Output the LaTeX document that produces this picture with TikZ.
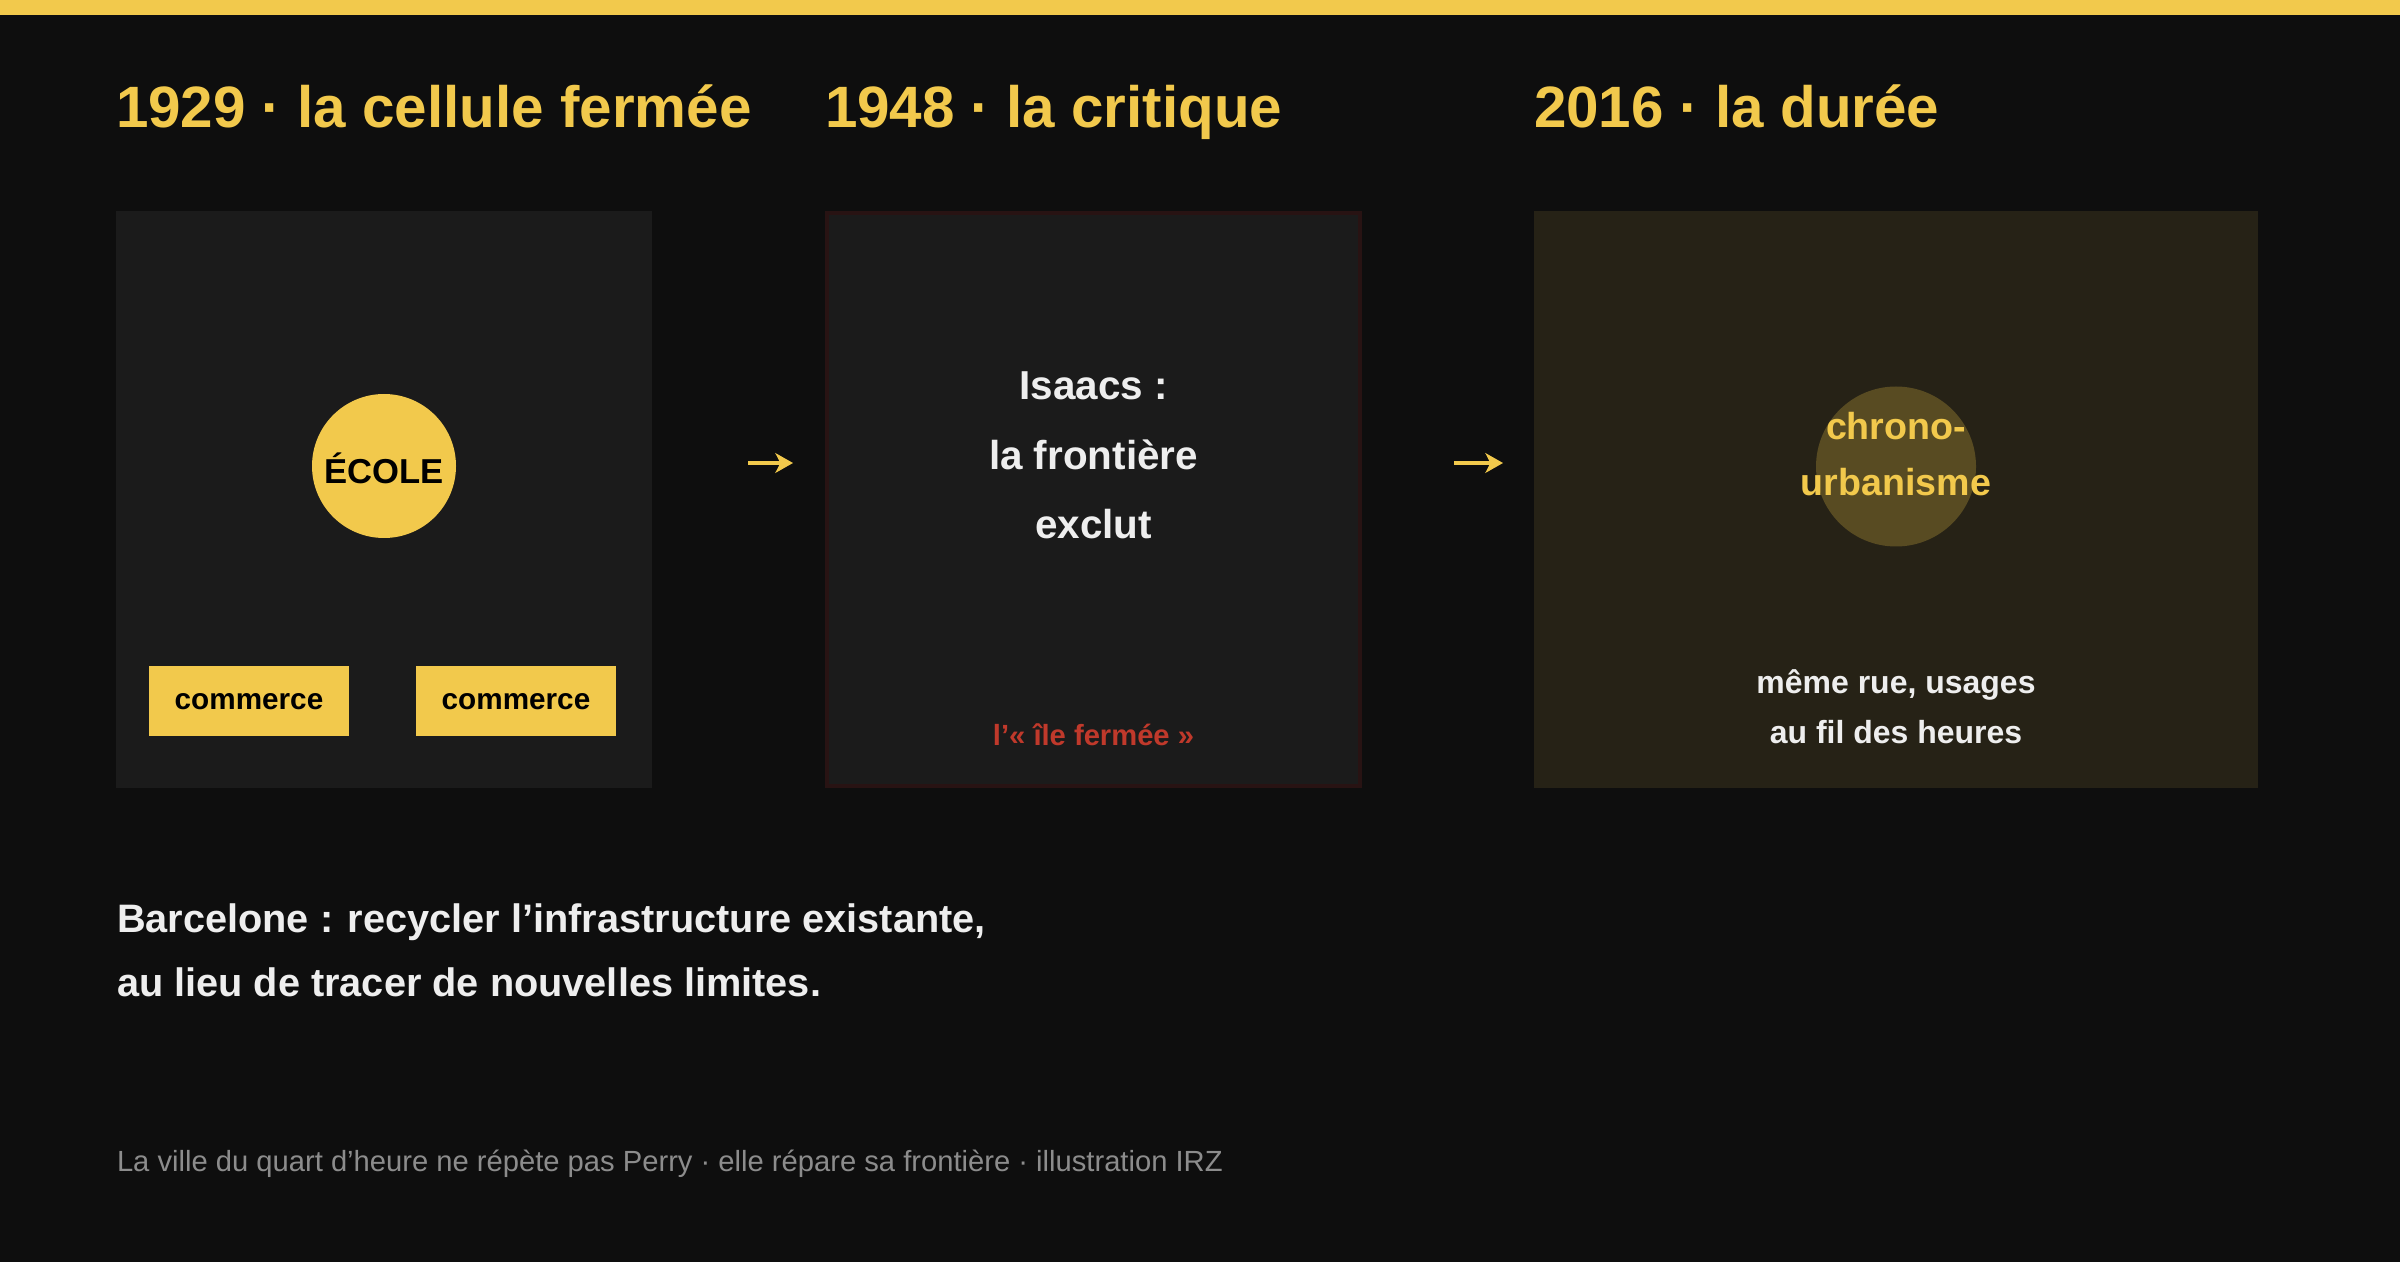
\documentclass[tikz,border=0pt]{standalone}
\usepackage{fontspec}
\setmainfont{Liberation Sans}
\usepackage{xcolor}
\usetikzlibrary{
  arrows.meta,
  positioning
}
\definecolor{bg}{HTML}{0E0E0E}
\definecolor{gold}{HTML}{F2C94C}
\definecolor{panel}{HTML}{1B1B1B}
\definecolor{olive}{HTML}{262216}
\definecolor{disc}{HTML}{584B22}
\definecolor{alarm}{HTML}{C0392B}
\definecolor{rim}{HTML}{281313}
\definecolor{ink}{HTML}{EEEEEE}
\definecolor{note}{HTML}{8C8C8C}

\begin{document}
\begin{tikzpicture}[every node/.style={inner sep=0pt,outer sep=0pt},
  title/.style={anchor=base west,text=gold,font=\fontsize{16.6}{20}\selectfont\bfseries},
  tag/.style={rectangle,fill=gold,minimum width=2cm,minimum height=0.7cm,text height=5.1pt,text depth=0pt,text=black,font=\fontsize{8.45}{10}\selectfont\bfseries},
  flow/.style={gold,line width=1.14pt,-{Stealth[length=5pt,width=5.6pt,inset=1.4pt]}}]
  \useasboundingbox (0,0) rectangle (24,12.61);
  \fill[bg] (-0.1,-0.1) rectangle (24.1,12.71);
  \fill[gold] (-0.1,12.46) rectangle (24.1,12.71);

  \node[title] (0) at (1.16,11.33) {1929 · la cellule fermée};
  \node[title] (1) at (8.25,11.33) {1948 · la critique};
  \node[title] (2) at (15.34,11.33) {2016 · la durée};

  \node[rectangle,fill=panel,minimum width=5.36cm,minimum height=5.77cm] (3) at (3.84,7.615) {};
  \node[rectangle,fill=panel,draw=rim,line width=1.14pt,outer sep=0.57pt,minimum width=5.33cm,minimum height=5.73cm] (4) at (10.935,7.615) {};
  \node[rectangle,fill=olive,minimum width=7.24cm,minimum height=5.77cm] (5) at (18.96,7.615) {};

  \node[circle,fill=gold,minimum size=1.44cm,text height=10pt,text depth=0pt,text=black,font=\fontsize{9.85}{11}\selectfont\bfseries] (6) at (3.84,7.95) {ÉCOLE};
  \node[tag] (7) at (2.49,5.60) {commerce};
  \node[tag] (8) at (5.16,5.60) {commerce};

  % base of a multi-line node = baseline of its last line
  \node[align=center,anchor=base,text=ink,font=\fontsize{11.5}{19.8}\selectfont\bfseries] (9) at (10.935,7.22) {Isaacs :\\la frontière\\exclut};
  \node[anchor=base,text=alarm,font=\fontsize{8.3}{10}\selectfont\bfseries] (10) at (10.935,5.16) {l’«~île fermée~»};

  \node[circle,fill=disc,minimum size=1.6cm] (11) at (18.96,7.945) {};
  \node[align=center,anchor=base,text=gold,font=\fontsize{10.7}{15.8}\selectfont\bfseries] (12) at (18.96,7.655) {chrono-\\urbanisme};
  \node[align=center,anchor=base,text=ink,font=\fontsize{9.1}{14.2}\selectfont\bfseries] (13) at (18.96,5.176) {même rue, usages\\au fil des heures};

  \draw[flow,shorten <=9.6mm,shorten >=3.2mm] ([yshift=3.65mm]3.east) -- ([yshift=3.65mm]4.west);
  \draw[flow,shorten <=9.2mm,shorten >=3.1mm] ([yshift=3.65mm]4.east) -- ([yshift=3.65mm]5.west);

  \node[align=left,anchor=base west,text=ink,font=\fontsize{11.3}{18.2}\selectfont\bfseries] (14) at (1.17,2.643) {Barcelone : recycler l’infrastructure existante,\\au lieu de tracer de nouvelles limites.};
  \node[anchor=base west,text=note,font=\fontsize{8.3}{10}\selectfont] (15) at (1.17,0.893) {La ville du quart d’heure ne répète pas Perry · elle répare sa frontière · illustration IRZ};

\end{tikzpicture}
\end{document}
